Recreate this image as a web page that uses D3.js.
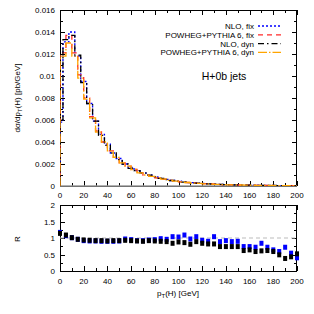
<!DOCTYPE html>
<html>
<head>
<meta charset="utf-8">
<script src="https://cdn.jsdelivr.net/npm/d3@7"></script>
<style>
  body { margin: 0; background: #fff; }
  svg { display: block; font-family: "Liberation Sans", Arial, sans-serif; }
</style>
</head>
<body>
<div id="chart"></div>
<script>
// NLO curves sampled at pT = 0, 5, ..., 200 (steps centred on the point)
const nloPt = d3.range(0, 201, 5);
const nloFix = [0.0058, 0.0131, 0.0140, 0.0118, 0.0095, 0.0075, 0.0059, 0.0047, 0.0038, 0.0030,
    0.0025, 0.0020, 0.0017, 0.0014, 0.0012, 0.0010, 0.00085, 0.00072, 0.00060, 0.00050,
    0.00043, 0.00037, 0.00031, 0.00027, 0.00023, 0.00020, 0.00017, 0.00015, 0.00013, 0.00011,
    0.00010, 0.000088, 0.000078, 0.000068, 0.000060, 0.000053, 0.000047, 0.000042, 0.000037, 0.000033,
    0.000029];
const nloDyn = [0.0060, 0.0133, 0.0137, 0.0119, 0.0094, 0.0075, 0.0059, 0.0046, 0.0037, 0.0030,
    0.0024, 0.0020, 0.0016, 0.0014, 0.0012, 0.00098, 0.00083, 0.00070, 0.00059, 0.00050,
    0.00042, 0.00036, 0.00031, 0.00026, 0.00022, 0.00019, 0.00017, 0.00014, 0.00012, 0.00011,
    0.000095, 0.000084, 0.000074, 0.000065, 0.000058, 0.000051, 0.000045, 0.000040, 0.000036, 0.000032,
    0.000028];

// POWHEG+PYTHIA curves in 5 GeV bins, 0-200
const pwgPt = d3.range(2.5, 200, 5);
const pwgFix = [0.0121, 0.0137, 0.0121, 0.0101, 0.0080, 0.0063, 0.0050, 0.0040, 0.0032, 0.0026,
    0.0021, 0.0018, 0.0015, 0.0012, 0.0010, 0.00088, 0.00074, 0.00062, 0.00052, 0.00044,
    0.00038, 0.00032, 0.00028, 0.00024, 0.00021, 0.00018, 0.00015, 0.00013, 0.00012, 0.00010,
    0.000090, 0.000080, 0.000070, 0.000062, 0.000055, 0.000049, 0.000043, 0.000038, 0.000034, 0.000030];
const pwgDyn = [0.0118, 0.0130, 0.0118, 0.0098, 0.0079, 0.0062, 0.0049, 0.0040, 0.0032, 0.0026,
    0.0021, 0.0018, 0.0015, 0.0012, 0.0010, 0.00087, 0.00073, 0.00062, 0.00052, 0.00044,
    0.00037, 0.00032, 0.00027, 0.00023, 0.00020, 0.00017, 0.00015, 0.00013, 0.00011, 0.00010,
    0.000090, 0.000080, 0.000070, 0.000061, 0.000054, 0.000048, 0.000042, 0.000037, 0.000033, 0.000029];

// ratio panel, one point per 5 GeV
const ratioFix = [1.17, 1.07, 1.01, 0.96, 0.92, 0.91, 0.91, 0.90, 0.90, 0.90,
    0.91, 0.97, 0.95, 0.92, 0.92, 0.94, 0.95, 0.98, 0.96, 1.04,
    1.03, 1.09, 0.97, 1.04, 0.93, 0.90, 1.04, 0.89, 0.92, 0.89,
    0.90, 0.74, 0.74, 0.72, 0.84, 0.72, 0.64, 0.59, 0.72, 0.54,
    0.40];
const ratioDyn = [1.14, 1.09, 1.01, 0.96, 0.94, 0.93, 0.92, 0.92, 0.91, 0.92,
    0.92, 0.93, 0.92, 0.91, 0.90, 0.92, 0.91, 0.90, 0.89, 0.84,
    0.88, 0.86, 0.81, 0.89, 0.84, 0.82, 0.82, 0.74, 0.74, 0.74,
    0.74, 0.62, 0.64, 0.59, 0.61, 0.62, 0.59, 0.49, 0.38, 0.43,
    0.52];

const topTicks = [0, 0.002, 0.004, 0.006, 0.008, 0.01, 0.012, 0.014, 0.016];
const ratioTicks = [0, 0.5, 1, 1.5, 2];
const xTicks = d3.range(0, 201, 20);

const series = [
    { name: 'NLO, fix', pts: nloPt, vals: nloFix, color: '#0000ff', dash: '2,2' },
    { name: 'POWHEG+PYTHIA 6, fix', pts: pwgPt, vals: pwgFix, color: '#ff2a2a', dash: '5,4' },
    { name: 'NLO, dyn', pts: nloPt, vals: nloDyn, color: '#000000', dash: '6,3,1.5,3' },
    { name: 'POWHEG+PYTHIA 6, dyn', pts: pwgPt, vals: pwgDyn, color: '#ffa500', dash: '9,2,1.5,2' },
];

const width = 314;
const height = 314;

const svg = d3.select('#chart').append('svg')
    .attr('width', width)
    .attr('height', height);

const x = d3.scaleLinear().domain([0, 200]).range([60, 297]);
const y = d3.scaleLinear().domain([0, 0.016]).range([186, 10]);
const yR = d3.scaleLinear().domain([0, 2]).range([271, 205]);

svg.append('clipPath').attr('id', 'clipTop')
    .append('rect').attr('x', 60).attr('y', 10).attr('width', 237).attr('height', 176);

// draws ticks on all four sides plus labels on left and bottom
const frame = (yScale, yMajor, yMinor, xLabelY, yFmt) => {
    const [y0, y1] = yScale.range();
    const g = svg.append('g');
    const tick = (x1, y1_, x2, y2) => g.append('line')
        .attr('x1', x1).attr('y1', y1_).attr('x2', x2).attr('y2', y2)
        .attr('stroke', '#000').attr('stroke-width', 1);

    d3.range(0, 201, 10).forEach((v) => {
        const len = v % 20 === 0 ? 5 : 3;
        const px = Math.round(x(v)) + 0.5;
        tick(px, y0, px, y0 - len);
        tick(px, y1, px, y1 + len);
    });
    yMinor.forEach((v) => {
        const major = yMajor.some((m) => Math.abs(m - v) < 1e-9);
        const len = major ? 5 : 3;
        const py = Math.round(yScale(v)) + 0.5;
        tick(60, py, 60 + len, py);
        tick(297, py, 297 - len, py);
    });

    g.append('rect')
        .attr('x', 60.5).attr('y', y1 + 0.5)
        .attr('width', 236).attr('height', y0 - y1)
        .attr('fill', 'none').attr('stroke', '#000');

    g.selectAll('.xl').data(xTicks).join('text')
        .attr('x', (d) => x(d)).attr('y', xLabelY)
        .attr('text-anchor', 'middle').attr('font-size', 8)
        .text((d) => d);
    g.selectAll('.yl').data(yMajor).join('text')
        .attr('x', 55).attr('y', (d) => yScale(d) + 3)
        .attr('text-anchor', 'end').attr('font-size', 8)
        .text(yFmt);
};

frame(y, topTicks, d3.range(0, 0.01601, 0.001), 198, (d) => d);
frame(yR, ratioTicks, d3.range(0, 2.01, 0.25), 284, (d) => d);

// zero line of top panel
svg.append('line')
    .attr('x1', 60).attr('x2', 297)
    .attr('y1', y(0)).attr('y2', y(0))
    .attr('stroke', '#999').attr('stroke-width', 1.5);

// histogram steps
const stepLine = d3.line()
    .x((d) => x(d[0]))
    .y((d) => y(d[1]))
    .curve(d3.curveStepAfter);

const plot = svg.append('g').attr('clip-path', 'url(#clipTop)');
series.forEach((s) => {
    const pts = [[0, 0]];
    s.pts.forEach((p, i) => pts.push([Math.max(0, p - 2.5), s.vals[i]]));
    pts.push([200, s.vals[s.vals.length - 1]]);
    pts.push([200, 0]);
    plot.append('path')
        .attr('d', stepLine(pts))
        .attr('fill', 'none')
        .attr('stroke', s.color)
        .attr('stroke-width', 1.3)
        .attr('stroke-dasharray', s.dash);
});

// legend
const legend = svg.append('g').attr('font-size', 8);
series.forEach((s, i) => {
    const ly = 26 + i * 8.8;
    legend.append('text')
        .attr('x', 254).attr('y', ly + 3)
        .attr('text-anchor', 'end')
        .text(s.name);
    legend.append('line')
        .attr('x1', 258).attr('x2', 281)
        .attr('y1', ly).attr('y2', ly)
        .attr('stroke', s.color)
        .attr('stroke-width', 1.3)
        .attr('stroke-dasharray', s.dash);
});

svg.append('text')
    .attr('x', 224).attr('y', 80)
    .attr('text-anchor', 'middle')
    .attr('font-size', 10.5)
    .text('H+0b jets');

// ratio panel
svg.append('line')
    .attr('x1', 60).attr('x2', 297)
    .attr('y1', yR(1)).attr('y2', yR(1))
    .attr('stroke', '#bbb').attr('stroke-width', 1)
    .attr('stroke-dasharray', '4,3');

[[ratioFix, '#0000ff'], [ratioDyn, '#000000']].forEach(([vals, color]) => {
    svg.append('g').selectAll('rect')
        .data(vals)
        .join('rect')
        .attr('x', (d, i) => x(nloPt[i]) - 2)
        .attr('y', (d) => yR(d) - 2.5)
        .attr('width', 4)
        .attr('height', 5)
        .attr('fill', color);
});

// axis titles
const ylab = svg.append('text')
    .attr('transform', 'translate(20,98) rotate(-90)')
    .attr('text-anchor', 'middle')
    .attr('font-size', 8);
ylab.append('tspan').text('dσ/dp');
ylab.append('tspan').attr('font-size', 6).attr('dy', 2).text('T');
ylab.append('tspan').attr('dy', -2).text('(H) [pb/GeV]');

svg.append('text')
    .attr('transform', 'translate(20,239) rotate(-90)')
    .attr('text-anchor', 'middle')
    .attr('font-size', 8)
    .text('R');

const xlab = svg.append('text')
    .attr('x', 178).attr('y', 296)
    .attr('text-anchor', 'middle')
    .attr('font-size', 8);
xlab.append('tspan').text('p');
xlab.append('tspan').attr('font-size', 6).attr('dy', 2).text('T');
xlab.append('tspan').attr('dy', -2).text('(H) [GeV]');
</script>
</body>
</html>
